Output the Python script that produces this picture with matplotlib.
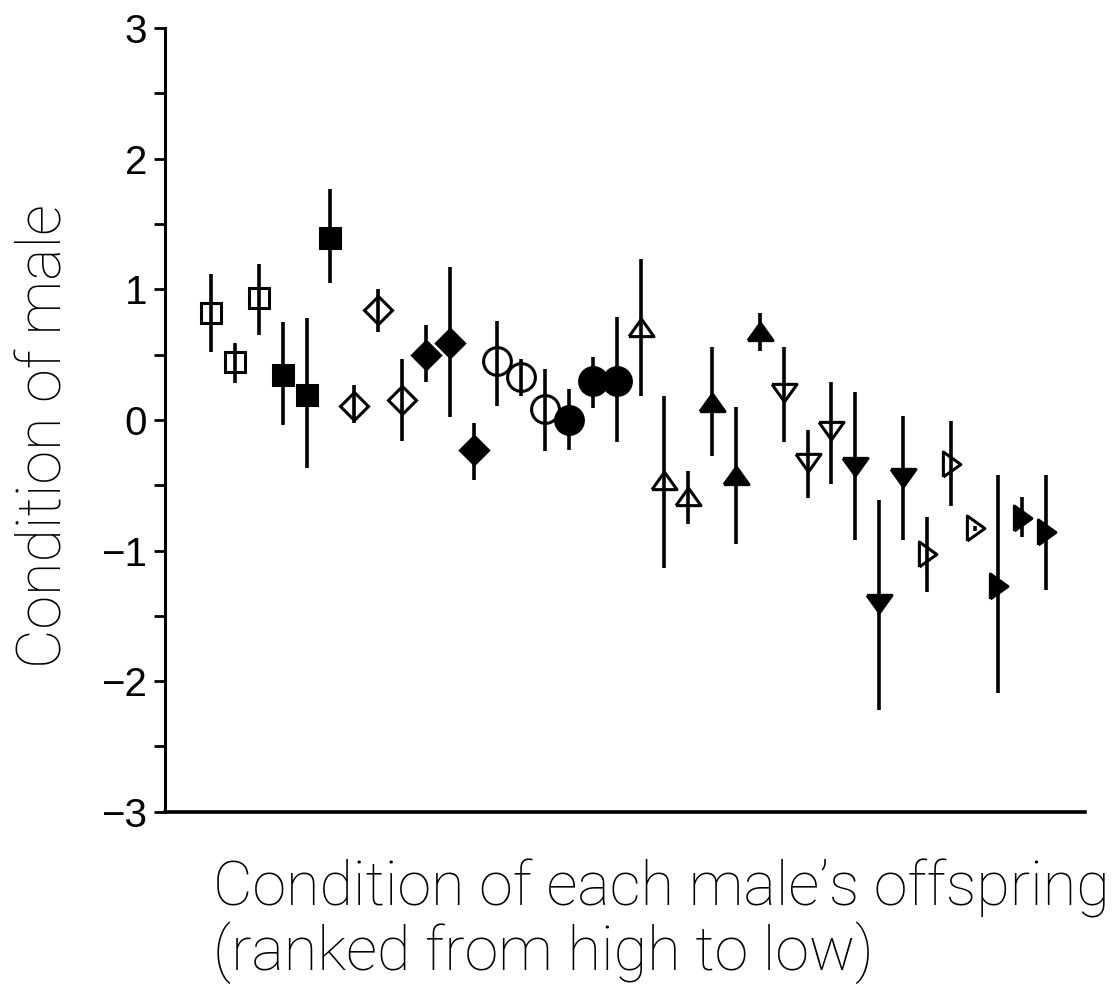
import matplotlib.pyplot as plt
from matplotlib.ticker import MultipleLocator

# male condition (mean) with upper / lower ends of the error bars, ranked by offspring condition
rank = list(range(1, 37))
male_cond = [0.82, 0.44, 0.93, 0.34, 0.19, 1.39, 0.11, 0.84, 0.15, 0.50, 0.59, -0.23,
             0.45, 0.33, 0.08, 0.00, 0.30, 0.30, 0.70, -0.47, -0.59, 0.13, -0.43, 0.67,
             0.21, -0.32, -0.08, -0.35, -1.40, -0.44, -1.03, -0.34, -0.83, -1.27, -0.75, -0.86]
err_hi = [1.12, 0.59, 1.19, 0.75, 0.78, 1.77, 0.27, 1.00, 0.47, 0.73, 1.17, -0.02,
          0.76, 0.47, 0.39, 0.24, 0.48, 0.79, 1.23, 0.18, -0.39, 0.56, 0.10, 0.82,
          0.56, -0.08, 0.29, 0.21, -0.61, 0.03, -0.74, -0.01, -0.81, -0.42, -0.59, -0.42]
err_lo = [0.52, 0.28, 0.65, -0.04, -0.37, 1.05, -0.02, 0.67, -0.16, 0.29, 0.02, -0.46,
          0.11, 0.18, -0.24, -0.23, 0.09, -0.17, 0.18, -1.13, -0.80, -0.28, -0.95, 0.53,
          -0.17, -0.60, -0.49, -0.92, -2.22, -0.92, -1.32, -0.66, -0.85, -2.09, -0.90, -1.30]

# one marker style per group of three males (open / filled); flat triangles, closed paths
tri_up = [(-1, -0.65), (1, -0.65), (0, 0.75), (-1, -0.65)]
tri_dn = [(-1, 0.65), (1, 0.65), (0, -0.75), (-1, 0.65)]
tri_rt = [(-0.65, -1), (-0.65, 1), (0.75, 0), (-0.65, -1)]
group_markers = [('s', False, 15), ('s', True, 15), ('D', False, 14), ('D', True, 14),
                 ('o', False, 20), ('o', True, 20), (tri_up, False, 18), (tri_up, True, 18),
                 (tri_dn, False, 18), (tri_dn, True, 18), (tri_rt, False, 18), (tri_rt, True, 18)]

fig = plt.figure(figsize=(11.19, 9.9), dpi=100)
ax = fig.add_axes([0.1475, 0.18, 0.8221, 0.7917])

for i in range(len(rank)):
    mk, filled, ms = group_markers[i // 3]
    ax.plot([rank[i], rank[i]], [err_lo[i], err_hi[i]], color='black', lw=2.6, zorder=2,
            solid_capstyle='butt')
    ax.plot(rank[i], male_cond[i], marker=mk, ms=ms, mew=2.2, mec='black',
            mfc='black' if filled else 'none', ls='none', zorder=3)

ax.set_xlim(-0.93, 37.63)
ax.set_ylim(-3, 3)
ax.yaxis.set_minor_locator(MultipleLocator(0.5))
ax.set_yticks([-3, -2, -1, 0, 1, 2, 3])
ax.set_yticklabels(['\u22123', '\u22122', '\u22121', '0', '1', '2', '3'],
                   fontsize=29, family='Liberation Sans')
ax.tick_params(axis='y', which='both', length=8, width=2, direction='out', pad=5)
ax.set_xticks([])
for s in ['top', 'right']:
    ax.spines[s].set_visible(False)
ax.spines['left'].set_linewidth(2.2)
ax.spines['bottom'].set_linewidth(2.6)

light = dict(family=['Roboto', 'Lato', 'DejaVu Sans'], weight='light')
fig.text(0.04, 0.56, 'Condition of male', rotation=90, ha='center', va='center',
         fontsize=44, **light)
fig.text(213 / 1119, 1 - 905 / 990, 'Condition of each male\u2019s offspring',
         ha='left', va='baseline', fontsize=44, **light)
fig.text(213 / 1119, 1 - 970 / 990, '(ranked from high to low)',
         ha='left', va='baseline', fontsize=44, **light)

fig.savefig('out.png', dpi=100)
